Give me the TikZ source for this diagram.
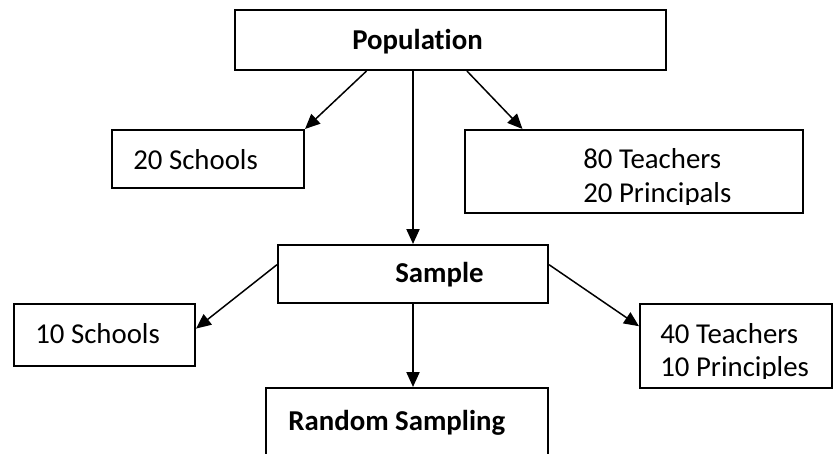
\documentclass[tikz,border=0pt]{standalone}
\usepackage{fontspec}
\setmainfont{Carlito}[Ligatures=NoCommon]
\usetikzlibrary{arrows.meta,calc}
\begin{document}
\begin{tikzpicture}[x=0.02cm,y=-0.02cm]

    \tikzset{
      box/.style={
        draw,
        line width=1.2pt,
        inner sep=0pt,
      },
      lbl/.style={
        anchor=base west,
        inner sep=0pt,
        font=\fontsize{16.4}{18.5}\selectfont,
      },
      link/.style={
        line width=0.85pt,
        -{Triangle[length=8.5pt,width=7.5pt]},
      },
    }
    \clip (0,0) rectangle (837,453);

	\node[box,minimum width=8.62cm,minimum height=1.2cm] (pop) at (450.5,40) {};
	\node[box,minimum width=3.84cm,minimum height=1.16cm] (s20) at (208,159) {};
	\node[box,minimum width=6.76cm,minimum height=1.66cm] (t80) at (634,171.5) {};
	\node[box,minimum width=5.4cm,minimum height=1.16cm] (sample) at (413,274) {};
	\node[box,minimum width=3.62cm,minimum height=1.24cm] (s10) at (104.5,335) {};
	\node[box,minimum width=3.84cm,minimum height=1.68cm] (t40) at (736,346) {};
	\node[box,minimum width=5.64cm,minimum height=1.64cm] (rand) at (407,429) {};

	\node[lbl] (poptxt) at (352,49) {\textbf{Population}};
	\node[lbl] (s20txt) at (133,169) {20 Schools};
	\begin{scope}
	  \clip (t80.north west) rectangle ($(t80.south east)+(0,-10)$);
	  \node[lbl] (t80txt) at (583,168) {80 Teachers};
	  \node[lbl] (p20txt) at (583,202) {20 Principals};
	\end{scope}
	\node[lbl] (sampletxt) at (395,282) {\textbf{Sample}};
	\node[lbl] (s10txt) at (35,343) {10 Schools};
	\begin{scope}
	  \clip (t40.north west) rectangle ($(t40.south east)+(0,-11)$);
	  \node[lbl] (t40txt) at (660,343) {40 Teachers};
	  \node[lbl] (p10txt) at (660,376) {10 Principles};
	\end{scope}
	\node[lbl] (randtxt) at (288,430) {\textbf{Random Sampling}};

	\draw[link] ($(pop.south west)!0.306!(pop.south east)$) -- (s20.north east);
	\draw[link] ($(pop.south west)!0.538!(pop.south east)$) -- ($(t80.north west)!0.172!(t80.north east)$);
	\draw[link] (pop.south -| sample.north) -- (sample.north);
	\draw[link] ($(sample.north west)!0.345!(sample.south west)$) -- ($(s10.north east)!0.4!(s10.south east)$);
	\draw[link] ($(sample.north east)!0.345!(sample.south east)$) -- ($(t40.north west)!0.27!(t40.south west)$);
	\draw[link] (sample.south) -- (sample.south |- rand.north);

\end{tikzpicture}
\end{document}
